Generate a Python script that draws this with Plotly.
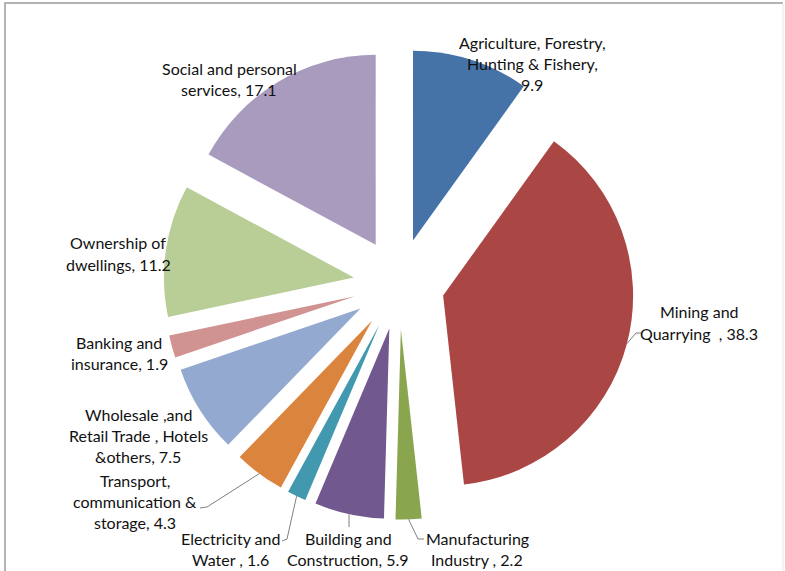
import math
import plotly.graph_objects as go

# Sector shares of GDP (%), clockwise from 12 o'clock
sectors = [
    "Agriculture, Forestry, Hunting & Fishery",
    "Mining and Quarrying",
    "Manufacturing Industry",
    "Building and Construction",
    "Electricity and Water",
    "Transport, communication & storage",
    "Wholesale ,and Retail Trade , Hotels &others",
    "Banking and insurance",
    "Ownership of dwellings",
    "Social and personal services",
]
shares = [9.9, 38.3, 2.2, 5.9, 1.6, 4.3, 7.5, 1.9, 11.2, 17.1]
colors = ["#4572A7", "#AA4643", "#89A54E", "#71588F", "#4198AF",
          "#DB843D", "#93A9CF", "#D19392", "#B9CD96", "#A99BBD"]

# Label text lines (value appended on the final line)
label_lines = [
    ["Agriculture, Forestry,", "Hunting & Fishery,", "{v}"],
    ["Mining and", "Quarrying  , {v}"],
    ["Manufacturing", "Industry , {v}"],
    ["Building and", "Construction, {v}"],
    ["Electricity and", "Water , {v}"],
    ["Transport,", "communication &", "storage, {v}"],
    ["Wholesale ,and", "Retail Trade , Hotels", "&others, {v}"],
    ["Banking and", "insurance, {v}"],
    ["Ownership of", "dwellings, {v}"],
    ["Social and personal", "services, {v}"],
]

W, H = 785, 571
PULL = 0.24
DOM_X = [0.2082, 0.8084]
DOM_Y = [0.0900, 0.9152]

# Label placement in pixels: (center x, first-line y), and leader-line bends
label_pos = [
    (532, 42), (699, 312), (477, 538), (348, 538), (230, 538),
    (135, 480), (138, 414), (119, 342), (118, 243), (229, 68),
]
leader_pts = {
    1: [(636, 333), (641, 333)],
    2: [(418, 539), (424, 539)],
    3: [(349, 527)],
    4: [(287, 539), (282, 541)],
    5: [(207, 507), (200, 508)],
}
LINE_H = 21.2

fig = go.Figure(go.Pie(
    labels=sectors,
    values=shares,
    sort=False,
    direction="clockwise",
    rotation=0,
    pull=[PULL] * len(shares),
    marker=dict(colors=colors, line=dict(width=0)),
    textinfo="none",
    hoverinfo="label+value",
    domain=dict(x=DOM_X, y=DOM_Y),
    showlegend=False,
))

# Pie geometry in pixels (mirrors plotly's own layout of the pie)
box_w = W * (DOM_X[1] - DOM_X[0])
box_h = H * (DOM_Y[1] - DOM_Y[0])
radius = min(box_w, box_h) / 2 / (1 + PULL)
cx = W * (DOM_X[0] + DOM_X[1]) / 2
cy = H * (1 - (DOM_Y[0] + DOM_Y[1]) / 2)
total = sum(shares)


def px_to_paper(x, y):
    return x / W, 1 - y / H


annotations = []
for i, (lines, val) in enumerate(zip(label_lines, shares)):
    x0, y0 = label_pos[i]
    for k, line in enumerate(lines):
        px, py = px_to_paper(x0, y0 + k * LINE_H)
        annotations.append(dict(
            x=px, y=py, xref="paper", yref="paper",
            text=line.format(v=val), showarrow=False,
            xanchor="center", yanchor="middle",
            font=dict(family="Lato, 'Open Sans', sans-serif", size=16, color="#111111"),
        ))

shapes = []
cum = 0.0
for i, val in enumerate(shares):
    mid = (cum + val / 2) / total * 2 * math.pi
    cum += val
    if i not in leader_pts:
        continue
    dist = radius * (1 + PULL)
    sx = cx + dist * math.sin(mid)
    sy = cy - dist * math.cos(mid)
    pts = [(sx, sy)] + leader_pts[i]
    path = "M " + " L ".join(f"{p[0] / W:.5f},{1 - p[1] / H:.5f}" for p in pts)
    shapes.append(dict(type="path", path=path, xref="paper", yref="paper",
                       line=dict(color="#7f7f7f", width=1)))

# Chart frame
shapes.append(dict(type="path", xref="paper", yref="paper",
                   path=f"M {5 / W},0 L {5 / W},{1 - 3 / H} L {783 / W},{1 - 3 / H}",
                   line=dict(color="#9a9a9a", width=1.5)))
shapes.append(dict(type="line", xref="paper", yref="paper",
                   x0=783 / W, x1=783 / W, y0=0, y1=1 - 3 / H,
                   line=dict(color="#e6e6e6", width=1)))

fig.update_layout(
    width=W, height=H,
    margin=dict(l=0, r=0, t=0, b=0),
    paper_bgcolor="white",
    plot_bgcolor="white",
    annotations=annotations,
    shapes=shapes,
)

fig.write_html("out.html")
